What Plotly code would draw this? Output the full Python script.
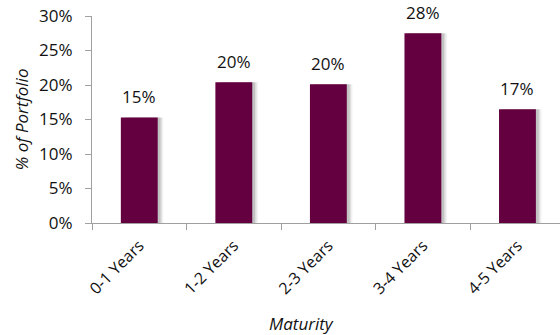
import plotly.graph_objects as go

categories = ["0-1 Years", "1-2 Years", "2-3 Years", "3-4 Years", "4-5 Years"]
values = [15.3, 20.4, 20.1, 27.5, 16.5]
labels = ["15%", "20%", "20%", "28%", "17%"]
y_ticks = [0, 5, 10, 15, 20, 25, 30]
y_tick_text = ["0%", "5%", "10%", "15%", "20%", "25%", "30%"]

FONT = "'Open Sans', sans-serif"
BAR = "#640040"

fig = go.Figure()
# soft shadow behind bars
for shift, alpha in [(0.06, 0.05), (0.045, 0.08), (0.03, 0.12)]:
    fig.add_trace(go.Bar(
        x=categories, y=values, width=0.39, offset=-0.195 + shift,
        marker=dict(color=f"rgba(0,0,0,{alpha})", line=dict(width=0)),
        hoverinfo="skip", showlegend=False,
    ))
fig.add_trace(go.Bar(
    x=categories, y=values, width=0.39, offset=-0.195,
    marker=dict(color=BAR, line=dict(width=0)),
    showlegend=False,
))

annotations = []
for c, v, t in zip(categories, values, labels):
    annotations.append(dict(x=c, y=v, text=t, showarrow=False, yshift=21,
                            font=dict(family=FONT, size=17, color="#111")))
annotations.append(dict(x=0.448, y=-0.485, xref="paper", yref="paper", text="<i>Maturity</i>",
                        yanchor="middle", showarrow=False, font=dict(family=FONT, size=17, color="#111")))
annotations.append(dict(x=-0.15, y=0.5, xref="paper", yref="paper", text="<i>% of Portfolio</i>",
                        xanchor="center", textangle=-90, showarrow=False,
                        font=dict(family=FONT, size=17, color="#111")))

fig.update_layout(
    width=560, height=335,
    margin=dict(l=92, r=0, t=16, b=112),
    paper_bgcolor="white", plot_bgcolor="white",
    barmode="overlay",
    annotations=annotations,
    xaxis=dict(
        type="category", range=[-0.5, 4.45],
        showline=True, linecolor="#a0a0a0", linewidth=1,
        ticks="outside", ticklen=6, tickcolor="#a0a0a0", tickson="boundaries",
        tickangle=-45, tickfont=dict(family=FONT, size=16, color="#111"),
        ticklabelstandoff=6,
        showgrid=False, zeroline=False,
    ),
    yaxis=dict(
        range=[0, 30], tickvals=y_ticks, ticktext=y_tick_text,
        showline=True, linecolor="#a0a0a0", linewidth=1,
        ticks="outside", ticklen=6, tickcolor="#a0a0a0",
        tickfont=dict(family=FONT, size=17, color="#111"),
        ticklabelstandoff=9,
        showgrid=False, zeroline=False,
    ),
)

fig.write_html("out.html")
